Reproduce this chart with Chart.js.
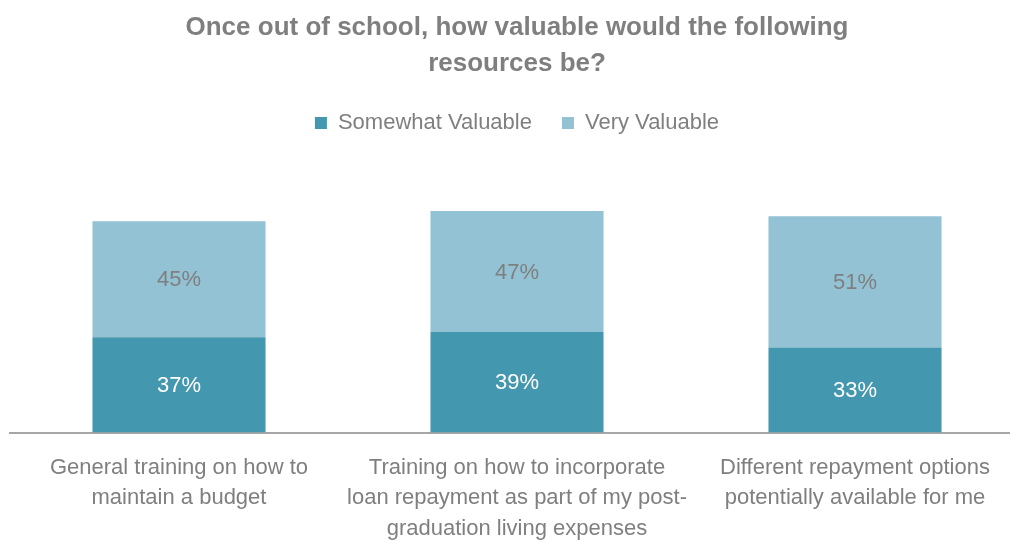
<!DOCTYPE html>
<html>
<head>
<meta charset="utf-8">
<script src="https://cdn.jsdelivr.net/npm/chart.js@4.4.1/dist/chart.umd.min.js"></script>
<style>
  html, body { margin: 0; padding: 0; background: #fff; overflow: hidden; }
  #wrap { width: 1010px; height: 541px; overflow: hidden; position: relative; }
  #inner { width: 1034px; height: 556px; }
</style>
</head>
<body>
<div id="wrap"><div id="inner"><canvas id="chart"></canvas></div></div>
<script>
const categories = [
    ['General training on how to', 'maintain a budget'],
    ['Training on how to incorporate', 'loan repayment as part of my post-', 'graduation living expenses'],
    ['Different repayment options', 'potentially available for me']
];
const somewhatValuable = [37, 39, 33];
const veryValuable = [45, 47, 51];

const FONT = "'Liberation Sans', Arial, sans-serif";
const GREY = '#7f7f7f';

// draws the percentage in the middle of each bar segment
const segmentLabels = {
    id: 'segmentLabels',
    afterDatasetsDraw(chart) {
        const ctx = chart.ctx;
        ctx.save();
        ctx.font = '22px ' + FONT;
        ctx.textAlign = 'center';
        ctx.textBaseline = 'middle';
        chart.data.datasets.forEach((ds, i) => {
            const meta = chart.getDatasetMeta(i);
            ctx.fillStyle = i === 0 ? '#ffffff' : GREY;
            meta.data.forEach((bar, j) => {
                ctx.fillText(ds.data[j] + '%', bar.x, (bar.y + bar.base) / 2 + 1);
            });
        });
        ctx.restore();
    }
};

new Chart(document.getElementById('chart').getContext('2d'), {
    type: 'bar',
    data: {
        labels: categories,
        datasets: [
            {
                label: 'Somewhat Valuable',
                data: somewhatValuable,
                backgroundColor: '#4397ae',
                borderWidth: 0
            },
            {
                label: 'Very Valuable',
                data: veryValuable,
                backgroundColor: '#92c2d4',
                borderWidth: 0
            }
        ]
    },
    options: {
        responsive: true,
        maintainAspectRatio: false,
        animation: false,
        layout: {
            padding: { left: 10, right: 10, top: 0, bottom: 0 }
        },
        datasets: {
            bar: { categoryPercentage: 1, barPercentage: 0.512 }
        },
        plugins: {
            title: {
                display: true,
                text: ['Once out of school, how valuable would the following', 'resources be?'],
                color: GREY,
                font: { family: FONT, size: 26, weight: 'bold', lineHeight: 1.385 },
                padding: { top: 10, bottom: 0 }
            },
            legend: {
                display: true,
                labels: {
                    color: GREY,
                    font: { family: FONT, size: 22 },
                    boxWidth: 12,
                    boxHeight: 12,
                    padding: 30
                }
            },
            tooltip: { enabled: false }
        },
        scales: {
            x: {
                stacked: true,
                grid: { display: false },
                border: { display: true, color: '#a6a6a6', width: 2 },
                ticks: {
                    color: GREY,
                    font: { family: FONT, size: 22, lineHeight: 1.386 },
                    padding: 12,
                    maxRotation: 0,
                    autoSkip: false
                }
            },
            y: {
                stacked: true,
                display: false,
                min: 0,
                max: 112
            }
        }
    },
    plugins: [segmentLabels]
});
</script>
</body>
</html>
